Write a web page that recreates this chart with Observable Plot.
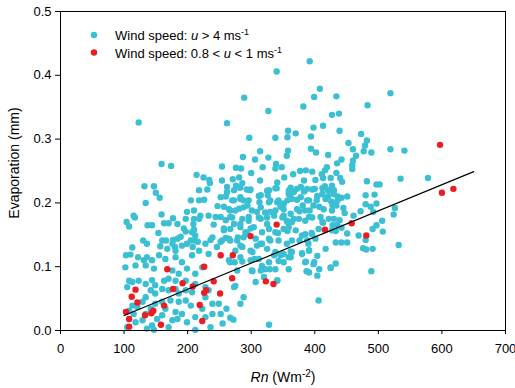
<!DOCTYPE html>
<html><head><meta charset="utf-8">
<script src="https://cdn.jsdelivr.net/npm/d3@7"></script>
<script src="https://cdn.jsdelivr.net/npm/@observablehq/plot@0.6"></script>
<style>body{margin:0;background:#fff;} svg{font-family:"Liberation Sans",Arial,sans-serif;}</style>
</head><body><div id="chart"></div>
<script>
// Wind speed u > 4 m/s : Rn (W m-2) and Evaporation (mm)
const cyanX = [340,289,123,392,408,
399,434,519,483,427,438,398,413,439,394,473,482,453,460,479,477,489,394,402,421,465,519,541,442,435,460,459,459,419,416,386,396,434,411,413,425,440,443,401,388,400,416,427,430,421,412,421,426,428,404,403,407,388,392,391,436,442,451,436,434,445,447,439,430,409,461,472,480,480,482,494,497,502,488,492,497,506,526,524,535,578,
413,395,385,390,376,428,435,442,433,451,433,442,451,469,480,476,481,491,491,497,507,532,489,380,391,386,399,387,407,404,425,433,406,
382,327,262,297,338,358,370,357,358,356,314,287,306,327,339,348,338,318,300,276,284,254,214,225,234,235,271,281,286,283,298,314,328,341,352,366,377,383,378,384,362,367,362,357,372,381,376,351,346,341,330,326,315,313,309,330,336,351,367,357,325,315,299,283,273,257,241,296,294,281,267,288,273,260,252,262,273,283,247,257,244,252,267,233,220,210,205,218,226,199,197,210,218,209,194,210,260,218,231,254,276,293,340,359,
159,174,132,147,150,156,134,159,104,108,115,117,137,144,163,170,177,184,154,130,136,113,157,166,177,184,180,197,207,211,216,199,236,252,260,257,189,208,
103,102,110,122,118,131,136,134,144,147,108,113,105,123,134,144,149,142,149,134,129,121,113,108,115,118,105,129,134,142,149,160,165,160,152,144,136,147,170,176,184,191,181,173,186,197,205,212,212,199,170,160,181,186,197,207,181,170,163,197,212,186,176,199,212,223,191,181,207,165,155,228,233,239,223,239,228,249,252,236,228,255,
302,317,329,341,273,288,267,272,328,261,283,267,279,294,283,302,315,330,342,357,346,362,265,274,286,305,336,343,315,359,
205,212,228,239,246,254,233,218,191,176,160,168,181];
const cyanY = [0.406,0.365,0.326,0.422,0.379,
0.366,0.367,0.372,0.353,0.338,0.340,0.318,0.321,0.313,0.304,0.308,0.298,0.294,0.284,0.290,0.281,0.279,0.285,0.279,0.275,0.274,0.284,0.282,0.268,0.262,0.266,0.259,0.253,0.256,0.251,0.251,0.249,0.247,0.245,0.239,0.239,0.239,0.233,0.236,0.222,0.222,0.226,0.227,0.220,0.220,0.214,0.210,0.202,0.196,0.210,0.204,0.194,0.204,0.188,0.178,0.210,0.208,0.210,0.204,0.196,0.192,0.184,0.173,0.175,0.178,0.180,0.187,0.198,0.212,0.234,0.213,0.229,0.229,0.194,0.186,0.199,0.172,0.192,0.182,0.238,0.239,
0.169,0.153,0.151,0.136,0.141,0.165,0.166,0.161,0.156,0.152,0.138,0.138,0.138,0.149,0.142,0.129,0.127,0.128,0.159,0.165,0.155,0.134,0.093,0.121,0.126,0.108,0.107,0.093,0.096,0.086,0.098,0.105,0.047,
0.351,0.344,0.325,0.302,0.302,0.313,0.309,0.303,0.282,0.274,0.281,0.272,0.268,0.271,0.261,0.256,0.254,0.256,0.247,0.255,0.254,0.257,0.244,0.240,0.236,0.231,0.237,0.240,0.231,0.224,0.220,0.235,0.220,0.232,0.240,0.245,0.250,0.235,0.225,0.219,0.224,0.217,0.209,0.204,0.205,0.196,0.187,0.199,0.194,0.201,0.204,0.212,0.212,0.201,0.186,0.186,0.180,0.180,0.175,0.170,0.167,0.175,0.160,0.167,0.167,0.160,0.166,0.178,0.196,0.191,0.188,0.204,0.204,0.210,0.209,0.225,0.220,0.209,0.195,0.194,0.178,0.178,0.178,0.180,0.180,0.188,0.204,0.204,0.205,0.186,0.175,0.175,0.175,0.167,0.160,0.158,0.173,0.220,0.221,0.235,0.227,0.221,0.223,0.214,
0.261,0.258,0.226,0.226,0.216,0.208,0.200,0.182,0.170,0.163,0.180,0.177,0.165,0.165,0.168,0.168,0.176,0.167,0.153,0.141,0.136,0.130,0.132,0.141,0.142,0.144,0.131,0.155,0.154,0.141,0.139,0.136,0.142,0.139,0.145,0.157,0.147,0.131,
0.118,0.099,0.119,0.115,0.102,0.110,0.115,0.102,0.110,0.097,0.078,0.076,0.068,0.078,0.073,0.079,0.071,0.063,0.058,0.052,0.045,0.037,0.039,0.031,0.026,0.013,0.005,0.016,0.026,0.034,0.042,0.045,0.034,0.024,0.018,0.008,0.003,0.001,0.005,0.016,0.018,0.026,0.029,0.047,0.045,0.047,0.039,0.021,0.001,0.013,0.063,0.065,0.065,0.058,0.063,0.060,0.078,0.081,0.078,0.078,0.073,0.089,0.094,0.097,0.089,0.099,0.107,0.115,0.118,0.112,0.118,0.052,0.063,0.042,0.034,0.026,0.021,0.042,0.026,0.005,0.068,0.011,
0.093,0.101,0.096,0.079,0.068,0.052,0.020,0.017,0.009,0.034,0.042,0.141,0.146,0.152,0.133,0.123,0.136,0.141,0.153,0.156,0.118,0.124,0.110,0.107,0.108,0.112,0.118,0.109,0.094,0.115,
0.141,0.149,0.136,0.146,0.131,0.141,0.120,0.125,0.133,0.136,0.141,0.128,0.125];

// the dense core of the u > 4 m/s cloud (Rn 260-430)
const cyanCoreX = [262,281,299,325,338,359,372,383,396,412,422,430,
270,283,296,312,328,343,351,364,378,391,404,417,427,
265,275,288,301,315,322,338,351,362,372,385,398,414,427,
270,286,296,312,325,349,356,364,375,385,396,412,422,
267,283,291,304,317,328,338,351,359,370,380,396,406,427,
265,278,288,307,317,328,343,356,364,388,401,
275,286,299,309,325,338,351,364,380,391,404,417,
267,283,299,312,328,351,362,385,398,425,
278,301,322,338,359,391,
275,307,320,341];
const cyanCoreY = [0.217,0.224,0.221,0.219,0.223,0.219,0.222,0.218,0.221,0.223,0.219,0.214,
0.204,0.206,0.204,0.211,0.201,0.204,0.198,0.206,0.209,0.204,0.211,0.206,0.201,
0.190,0.188,0.193,0.188,0.193,0.185,0.188,0.190,0.183,0.190,0.188,0.196,0.190,0.188,
0.177,0.175,0.172,0.177,0.177,0.177,0.172,0.170,0.175,0.172,0.177,0.170,0.175,
0.159,0.162,0.154,0.162,0.154,0.159,0.154,0.159,0.162,0.157,0.149,0.151,0.159,0.157,
0.144,0.141,0.146,0.144,0.136,0.144,0.141,0.136,0.141,0.141,0.144,
0.125,0.131,0.125,0.133,0.128,0.123,0.120,0.123,0.120,0.125,0.117,0.128,
0.107,0.115,0.110,0.112,0.107,0.107,0.115,0.107,0.104,0.099,
0.094,0.094,0.096,0.096,0.096,0.091,
0.070,0.076,0.084,0.078];

// Wind speed 0.8 < u < 1 m/s
const redX = [340,299,252,271,226,168,241,270,192,177,208,229,226,251,118,112,121,163,103,146,143,133,108,219,158,108,223,323,335,416,458,481,600,618,597];
const redY = [0.166,0.148,0.118,0.118,0.100,0.096,0.077,0.082,0.074,0.065,0.069,0.063,0.059,0.058,0.064,0.053,0.044,0.039,0.029,0.031,0.027,0.024,0.018,0.040,0.009,0.006,0.015,0.077,0.073,0.158,0.168,0.149,0.216,0.222,0.291];

// fitted line end points
const fitX = [100, 650];
const fitY = [0.0235, 0.249];

const xTicks = [0,100,200,300,400,500,600,700];
const yTicks = [0,0.1,0.2,0.3,0.4,0.5];

const cyanColor = "#3bbfd3";
const redColor = "#ec1c24";

const cyan = cyanX.map((x,i)=>({x, y: cyanY[i]}))
  .concat(cyanCoreX.map((x,i)=>({x, y: cyanCoreY[i]})));
const red = redX.map((x,i)=>({x, y: redY[i]}));
const fit = fitX.map((x,i)=>({x, y: fitY[i]}));

const chart = Plot.plot({
  width: 515, height: 388,
  marginLeft: 60, marginRight: 10, marginTop: 11, marginBottom: 58,
  style: {fontFamily: "Liberation Sans, Arial, sans-serif", fontSize: "13px", color: "#000", background: "#fff", overflow: "visible"},
  x: {domain: [0, 700]},
  y: {domain: [0, 0.5]},
  marks: [
    Plot.dot(cyan, {x: "x", y: "y", r: 3.2, fill: cyanColor, stroke: null}),
    Plot.dot(red, {x: "x", y: "y", r: 3.2, fill: redColor, stroke: null}),
    Plot.line(fit, {x: "x", y: "y", stroke: "#000", strokeWidth: 1.2}),
    Plot.frame({stroke: "#000", strokeWidth: 1}),
    Plot.axisX(xTicks, {tickSize: 4, tickPadding: 9, tickFormat: d => String(d), label: null, fontSize: 13, stroke: "#000"}),
    Plot.axisY(yTicks, {tickSize: 5, tickPadding: 4, tickFormat: d3.format(".1f"), label: null, fontSize: 13, stroke: "#000"})
  ]
});
document.getElementById("chart").appendChild(chart);

const svg = d3.select(chart);
const ff = "Liberation Sans, Arial, sans-serif";
// legend
const legend = [
  {color: cyanColor, y: 35, parts: [["Wind speed: ", null], ["u", "italic"], [" > 4 ms", null], ["-1", "sup"]]},
  {color: redColor, y: 52.5, parts: [["Wind speed: 0.8 < ", null], ["u", "italic"], [" < 1 ms", null], ["-1", "sup"]]}
];
legend.forEach(item => {
  svg.append("circle").attr("cx", 94).attr("cy", item.y).attr("r", 3.2).attr("fill", item.color);
  const t = svg.append("text").attr("x", 115).attr("y", item.y + 5).attr("text-anchor", "start")
    .attr("font-family", ff).attr("font-size", 13).attr("fill", "#000");
  item.parts.forEach(([s, kind]) => {
    const sp = t.append("tspan").text(s);
    if (kind === "italic") sp.attr("font-style", "italic");
    if (kind === "sup") sp.attr("font-size", 9).attr("dy", -5);
  });
});
// x title
const xt = svg.append("text").attr("x", 283).attr("y", 382).attr("text-anchor", "middle").attr("font-family", ff).attr("font-size", 14).attr("fill", "#000");
xt.append("tspan").attr("font-style", "italic").text("Rn");
xt.append("tspan").text(" (Wm");
xt.append("tspan").attr("font-size", 10).attr("dy", -5).text("-2");
xt.append("tspan").attr("dy", 5).text(")");
// y title
svg.append("text").attr("transform", "translate(19,163) rotate(-90)").attr("text-anchor", "middle")
  .attr("font-family", ff).attr("font-size", 14).attr("fill", "#000").text("Evaporation (mm)");
</script></body></html>
